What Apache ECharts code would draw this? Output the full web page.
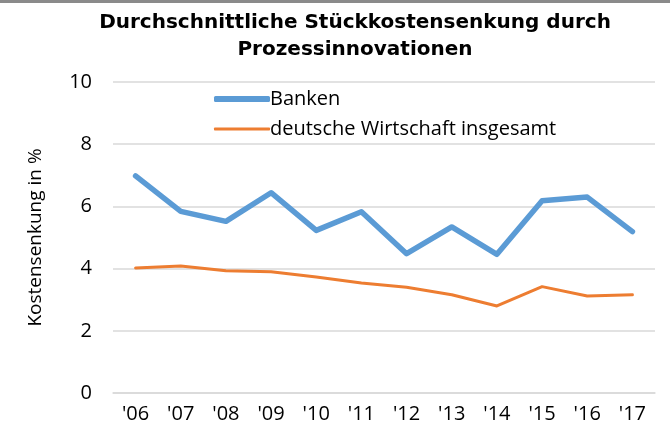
<!DOCTYPE html>
<html>
<head>
<meta charset="utf-8">
<script src="https://cdn.jsdelivr.net/npm/echarts@6/dist/echarts.min.js"></script>
<style>
  html, body { margin: 0; padding: 0; background: #fff; }
  #chart { width: 670px; height: 428px; border-top: 3px solid #8a8a8a; }
</style>
</head>
<body>
<div id="chart"></div>
<script>
// data
var years = ["'06", "'07", "'08", "'09", "'10", "'11", "'12", "'13", "'14", "'15", "'16", "'17"];
var banken = [6.98, 5.84, 5.52, 6.44, 5.23, 5.83, 4.48, 5.34, 4.46, 6.18, 6.3, 5.19];
var wirtschaft = [4.02, 4.08, 3.93, 3.9, 3.73, 3.54, 3.4, 3.16, 2.8, 3.42, 3.12, 3.16];

var labelFont = '"Open Sans", "Noto Sans", sans-serif';
var blue = '#5B9BD5';
var orange = '#ED7D31';

var dom = document.getElementById('chart');
var myChart = echarts.init(dom, null, {
  renderer: 'canvas',
  useDirtyRect: false
});

var legendText = {
  fontFamily: labelFont,
  fontSize: 20,
  color: '#000',
  padding: [0, 0, 0, -5]
};

var option = {
  backgroundColor: '#fff',
  animation: false,
  title: {
    text: 'Durchschnittliche Stückkostensenkung durch\nProzessinnovationen',
    left: 350,
    textAlign: 'center',
    top: 1,
    textStyle: {
      fontFamily: '"DejaVu Sans", Verdana, sans-serif',
      fontWeight: 'bold',
      fontSize: 20,
      lineHeight: 27,
      color: '#000'
    }
  },
  grid: {
    left: 113,
    right: 15,
    top: 79,
    bottom: 38
  },
  legend: [
    {
      left: 209,
      top: 81,
      icon: 'roundRect',
      itemWidth: 56,
      itemHeight: 6,
      textStyle: legendText,
      data: [{ name: 'Banken', itemStyle: { color: blue } }]
    },
    {
      left: 209,
      top: 111,
      icon: 'roundRect',
      itemWidth: 56,
      itemHeight: 3,
      textStyle: legendText,
      data: [{ name: 'deutsche Wirtschaft insgesamt', itemStyle: { color: orange } }]
    }
  ],
  xAxis: {
    type: 'category',
    data: years,
    axisLine: { show: true, lineStyle: { color: '#d9d9d9', width: 1.5 } },
    axisTick: { show: false },
    axisLabel: {
      fontFamily: labelFont,
      fontSize: 20,
      color: '#000',
      margin: 11,
      interval: 0
    }
  },
  yAxis: {
    type: 'value',
    min: 0,
    max: 10,
    interval: 2,
    name: 'Kostensenkung in %',
    nameLocation: 'middle',
    nameGap: 68,
    nameTextStyle: {
      fontFamily: labelFont,
      fontSize: 19,
      color: '#000'
    },
    axisLine: { show: false },
    axisTick: { show: false },
    splitLine: { lineStyle: { color: '#d9d9d9', width: 1.5 } },
    axisLabel: {
      fontFamily: labelFont,
      fontSize: 20,
      color: '#000',
      margin: 21
    }
  },
  series: [
    {
      name: 'Banken',
      type: 'line',
      data: banken,
      symbol: 'none',
      lineStyle: { color: blue, width: 5.5, cap: 'round', join: 'round' },
      itemStyle: { color: blue }
    },
    {
      name: 'deutsche Wirtschaft insgesamt',
      type: 'line',
      data: wirtschaft,
      symbol: 'none',
      lineStyle: { color: orange, width: 3, cap: 'round', join: 'round' },
      itemStyle: { color: orange }
    }
  ]
};

if (option && typeof option === 'object') {
  myChart.setOption(option);
}

window.addEventListener('resize', myChart.resize);
</script>
</body>
</html>
